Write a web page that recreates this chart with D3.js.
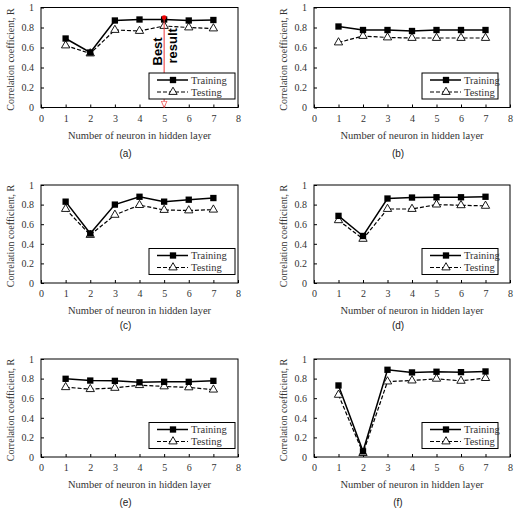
<!DOCTYPE html>
<html>
<head>
<meta charset="utf-8">
<script src="https://cdn.jsdelivr.net/npm/d3@7/dist/d3.min.js"></script>
<style>
  html, body { margin: 0; padding: 0; background: #fff; }
  svg { display: block; }
  .serif { font-family: "Liberation Serif", "Times New Roman", "DejaVu Serif", serif; }
  .sans { font-family: "Liberation Sans", Arial, sans-serif; }
</style>
</head>
<body>
<svg id="chart" width="517" height="511"></svg>
<script>
// ---- data ----
const neurons = [1, 2, 3, 4, 5, 6, 7];
const trainA = [0.69, 0.55, 0.87, 0.88, 0.88, 0.87, 0.875];
const testA  = [0.62, 0.54, 0.775, 0.765, 0.815, 0.80, 0.79];
const trainB = [0.81, 0.775, 0.775, 0.765, 0.775, 0.775, 0.775];
const testB  = [0.65, 0.715, 0.70, 0.695, 0.695, 0.695, 0.695];
const trainC = [0.83, 0.505, 0.80, 0.88, 0.83, 0.85, 0.867];
const testC  = [0.755, 0.49, 0.695, 0.795, 0.745, 0.74, 0.748];
const trainD = [0.685, 0.48, 0.862, 0.872, 0.875, 0.875, 0.88];
const testD  = [0.64, 0.45, 0.755, 0.755, 0.80, 0.793, 0.787];
const trainE = [0.798, 0.78, 0.777, 0.762, 0.767, 0.767, 0.777];
const testE  = [0.712, 0.692, 0.705, 0.733, 0.72, 0.71, 0.687];
const trainF = [0.73, 0.058, 0.89, 0.863, 0.87, 0.866, 0.873];
const testF  = [0.634, 0.04, 0.77, 0.78, 0.798, 0.777, 0.805];
const panelLabels = ["(a)", "(b)", "(c)", "(d)", "(e)", "(f)"];
const xTicks = [0, 1, 2, 3, 4, 5, 6, 7, 8];
const yTicks = [0, 0.2, 0.4, 0.6, 0.8, 1];
const seriesNames = ["Training", "Testing"];
const xTitle = "Number of neuron in hidden layer";
const yTitle = "Correlation coefficient, R";
const bestNeuron = 5, bestR = 0.9;
const bestText = ["Best", "result"];

// ---- layout ----
const cols = [[41, 238], [314, 510]];
const rows = [[7.5, 107.5], [185, 283], [359, 457]];
const train = [trainA, trainB, trainC, trainD, trainE, trainF];
const test = [testA, testB, testC, testD, testE, testF];
const legendX = [[149, 235], [422, 498]];

const svg = d3.select("#chart");
const txtCol = "#333";

svg.append("defs").append("marker")
  .attr("id", "arrowRed").attr("viewBox", "0 0 10 10")
  .attr("refX", 10).attr("refY", 5)
  .attr("markerWidth", 7).attr("markerHeight", 7)
  .attr("orient", "auto")
  .append("path").attr("d", "M1,1 L10,5 L1,9 Z")
  .attr("fill", "#fff").attr("stroke", "#e33").attr("stroke-width", 1);

for (let i = 0; i < 6; i++) {
  const c = i % 2, r = Math.floor(i / 2);
  const [x0, x1] = cols[c];
  const [y0, y1] = rows[r];
  const x = d3.scaleLinear().domain([0, 8]).range([x0, x1]);
  const y = d3.scaleLinear().domain([0, 1]).range([y1, y0]);
  const g = svg.append("g");

  // frame
  g.append("rect").attr("x", x0).attr("y", y0)
    .attr("width", x1 - x0).attr("height", y1 - y0)
    .attr("fill", "none").attr("stroke", "#000").attr("stroke-width", 1);

  // axes
  const xa = g.append("g").attr("transform", `translate(0,${y1})`)
    .call(d3.axisBottom(x).tickValues(xTicks).tickSize(-3).tickPadding(7).tickFormat(d3.format("d")));
  const ya = g.append("g").attr("transform", `translate(${x0},0)`)
    .call(d3.axisLeft(y).tickValues(yTicks).tickSize(-3).tickPadding(7).tickFormat(d => d === 0 || d === 1 ? String(d) : d.toFixed(1)));
  [xa, ya].forEach(a => {
    a.attr("font-family", null).attr("font-size", null);
    a.select(".domain").remove();
    a.selectAll("text").attr("class", "serif").style("font-size", "10px").attr("fill", txtCol);
    a.selectAll("line").attr("stroke", "#000");
  });

  // titles
  g.append("text").attr("class", "serif").attr("x", (x0 + x1) / 2).attr("y", y1 + 31)
    .attr("text-anchor", "middle").style("font-size", "10.5px")
    .attr("fill", txtCol).text(xTitle);
  g.append("text").attr("class", "serif").attr("transform", `translate(${x0 - 27},${(y0 + y1) / 2 + 2}) rotate(-90)`)
    .attr("text-anchor", "middle").style("font-size", "10px")
    .attr("fill", txtCol).text(yTitle);
  g.append("text").attr("class", "sans").attr("x", (x0 + x1) / 2 - 14).attr("y", y1 + (r === 1 ? 46 : 49))
    .attr("text-anchor", "middle").style("font-size", "10px")
    .attr("fill", "#222").text(panelLabels[i]);

  // lines
  const line = d3.line().x((d, k) => x(neurons[k])).y(d => y(d));
  g.append("path").datum(test[i]).attr("d", line).attr("fill", "none")
    .attr("stroke", "#000").attr("stroke-width", 1.2).attr("stroke-dasharray", "4,2");
  g.append("path").datum(train[i]).attr("d", line).attr("fill", "none")
    .attr("stroke", "#000").attr("stroke-width", 1.5);

  const sq = d3.symbol().type(d3.symbolSquare).size(40);
  const tri = d3.symbol().type(d3.symbolTriangle).size(30);
  g.selectAll(".tri").data(test[i]).join("path")
    .attr("transform", (d, k) => `translate(${x(neurons[k])},${y(d)})`)
    .attr("d", tri).attr("fill", "#fff").attr("stroke", "#000").attr("stroke-width", 0.9);
  g.selectAll(".sq").data(train[i]).join("path")
    .attr("transform", (d, k) => `translate(${x(neurons[k])},${y(d)})`)
    .attr("d", sq).attr("fill", "#000");

  // annotation for (a)
  if (i === 0) {
    g.append("line").attr("x1", x(bestNeuron)).attr("x2", x(bestNeuron))
      .attr("y1", y(bestR)).attr("y2", y(0))
      .attr("stroke", "#e33").attr("stroke-width", 1).attr("marker-end", "url(#arrowRed)");
    g.append("circle").attr("cx", x(bestNeuron)).attr("cy", y(bestR)).attr("r", 2.3).attr("fill", "#e00");
    g.append("text").attr("class", "sans").attr("transform", `translate(${x(bestNeuron) - 2},${y(0.42)}) rotate(-90)`)
      .attr("font-weight", "bold").style("font-size", "13px")
      .attr("fill", "#000").text(bestText[0]);
    g.append("text").attr("class", "sans").attr("transform", `translate(${x(bestNeuron) + 13},${y(0.44)}) rotate(-90)`)
      .attr("font-weight", "bold").style("font-size", "13px")
      .attr("fill", "#000").text(bestText[1]);
  }

  // legend
  const [lx0, lx1] = legendX[c];
  const ly1 = y1 - 8.5, ly0 = ly1 - 26;
  const lg = g.append("g");
  lg.append("rect").attr("x", lx0).attr("y", ly0).attr("width", lx1 - lx0).attr("height", ly1 - ly0)
    .attr("fill", "#fff").attr("stroke", "#000").attr("stroke-width", 1);
  seriesNames.forEach((name, k) => {
    const yy = ly0 + 7 + k * 12;
    lg.append("line").attr("x1", lx0 + 8).attr("x2", lx0 + 39).attr("y1", yy).attr("y2", yy)
      .attr("stroke", "#000").attr("stroke-width", k === 0 ? 1.5 : 1.2)
      .attr("stroke-dasharray", k === 0 ? null : "4,2");
    lg.append("path").attr("transform", `translate(${lx0 + 24},${yy})`)
      .attr("d", k === 0 ? sq : tri)
      .attr("fill", k === 0 ? "#000" : "#fff").attr("stroke", k === 0 ? "none" : "#000").attr("stroke-width", 0.9);
    lg.append("text").attr("class", "serif").attr("x", lx0 + 42).attr("y", yy + 3.5)
      .style("font-size", "10.5px").attr("fill", txtCol).text(name);
  });
}
</script>
</body>
</html>
